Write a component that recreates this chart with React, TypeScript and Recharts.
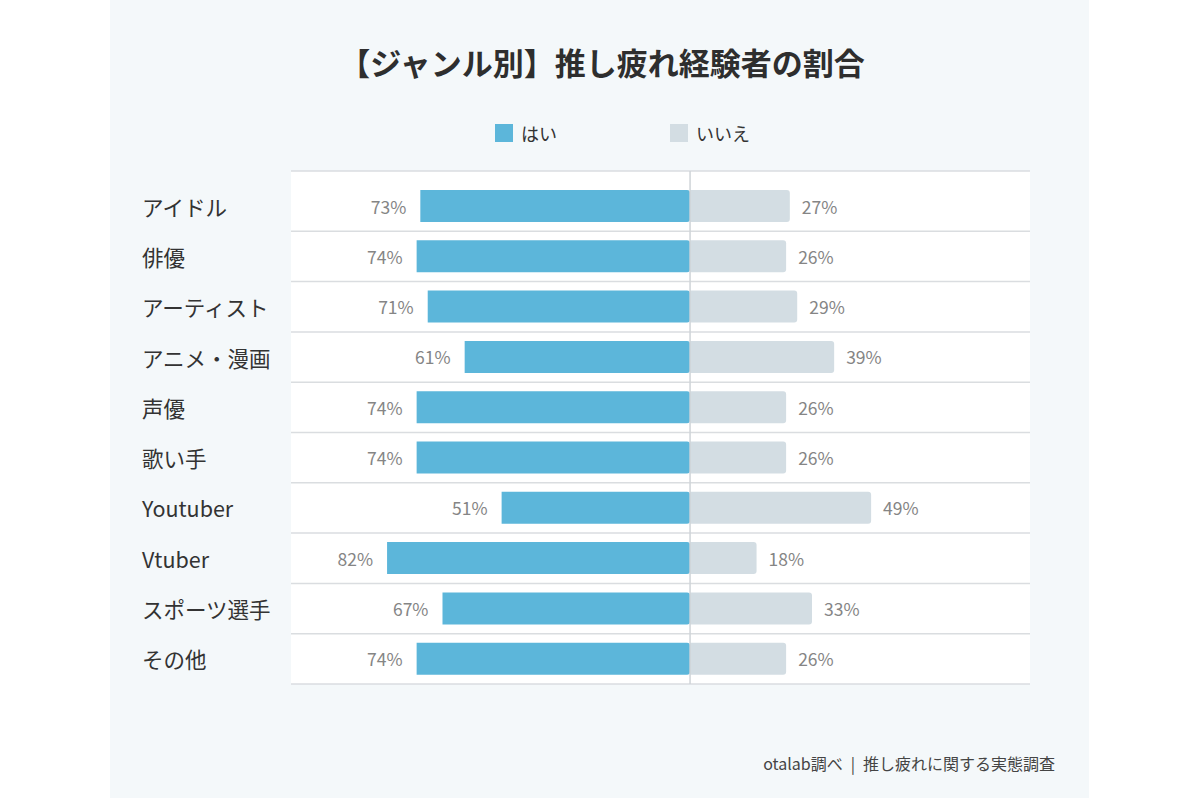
import React from "react";
import { Bar, BarChart, CartesianGrid, LabelList, ReferenceLine, XAxis, YAxis } from "recharts";

const genres = ["アイドル", "俳優", "アーティスト", "アニメ・漫画", "声優", "歌い手", "Youtuber", "Vtuber", "スポーツ選手", "その他"];
const yesValues = [73, 74, 71, 61, 74, 74, 51, 82, 67, 74];
const noValues = [27, 26, 29, 39, 26, 26, 49, 18, 33, 26];
const legendLabels = ["はい", "いいえ"];

const BLUE = "#5cb6da";
const GRAY = "#d3dde3";
const FONT = '"Noto Sans CJK JP", "Noto Sans", sans-serif';
const TOP_PAD = 10;

const data = genres.map((g, i) => ({ genre: g, yes: -yesValues[i], no: noValues[i] }));

function GenreTick(props: any) {
  return (
    <text x={142} y={props.y} dominantBaseline="central" fontSize={21.5} fill="#333" fontFamily={FONT}>
      {props.payload.value}
    </text>
  );
}

// percent label just outside the outer end of a bar
function PctLabel(props: any) {
  const { x, y, width, height, value, side } = props;
  const left = Math.min(x, x + width);
  const right = Math.max(x, x + width);
  const tx = side === "left" ? left - 14 : right + 12;
  return (
    <text
      x={tx}
      y={y + height / 2}
      textAnchor={side === "left" ? "end" : "start"}
      dominantBaseline="central"
      fontSize={17.5}
      fill="#858585"
      fontFamily={FONT}
    >
      {Math.abs(value)}%
    </text>
  );
}

// row separators at the band edges, plus the top border above the padding
function rowLines({ offset }: any) {
  const rowH = (offset.height - TOP_PAD) / genres.length;
  const ys = [offset.top];
  for (let i = 1; i <= genres.length; i++) ys.push(offset.top + TOP_PAD + rowH * i);
  return ys;
}

export default function App() {
  return (
    <div style={{ position: "absolute", left: 0, top: 0, width: 1200, height: 800, background: "#fff", fontFamily: FONT }}>
      <div style={{ position: "absolute", left: 110, top: 0, width: 979, height: 798, background: "#f4f8fa" }} />
      <div style={{ position: "absolute", left: 0, top: 39, width: 1204, textAlign: "center", fontSize: 31, fontWeight: 700, color: "#2e2e2e", lineHeight: "46px" }}>
        【ジャンル別】推し疲れ経験者の割合
      </div>
      <div style={{ position: "absolute", left: 495, top: 121, display: "flex", alignItems: "center", fontSize: 18, color: "#333", lineHeight: "24px" }}>
        <span style={{ width: 18, height: 18, background: BLUE, display: "inline-block", marginRight: 8 }} />
        <span style={{ width: 149 }}>{legendLabels[0]}</span>
        <span style={{ width: 18, height: 18, background: GRAY, display: "inline-block", marginRight: 8 }} />
        <span>{legendLabels[1]}</span>
      </div>
      <div style={{ position: "absolute", left: 0, top: 0 }}>
        <BarChart
          width={1200}
          height={800}
          data={data}
          layout="vertical"
          stackOffset="sign"
          barSize={32}
          margin={{ top: 171, right: 170, bottom: 116, left: 142 }}
        >
          <CartesianGrid vertical={false} fill="#fff" stroke="#dadde0" strokeWidth={1.5} horizontalCoordinatesGenerator={rowLines} />
          <XAxis type="number" domain={[-108, 92]} hide />
          <YAxis
            type="category"
            dataKey="genre"
            width={149}
            padding={{ top: TOP_PAD, bottom: 0 }}
            axisLine={false}
            tickLine={false}
            tick={<GenreTick />}
          />
          <ReferenceLine x={0} stroke="#cfd4d8" strokeWidth={1.5} />
          <Bar dataKey="yes" stackId="a" fill={BLUE} radius={[3, 0, 0, 3]} isAnimationActive={false}>
            <LabelList dataKey="yes" content={<PctLabel side="left" />} />
          </Bar>
          <Bar dataKey="no" stackId="a" fill={GRAY} radius={[0, 3, 3, 0]} isAnimationActive={false}>
            <LabelList dataKey="no" content={<PctLabel side="right" />} />
          </Bar>
        </BarChart>
      </div>
      <div style={{ position: "absolute", right: 145, top: 751, fontSize: 16, color: "#444", lineHeight: "24px", whiteSpace: "pre" }}>
        {"otalab調べ\u2002|\u2002推し疲れに関する実態調査"}
      </div>
    </div>
  );
}
